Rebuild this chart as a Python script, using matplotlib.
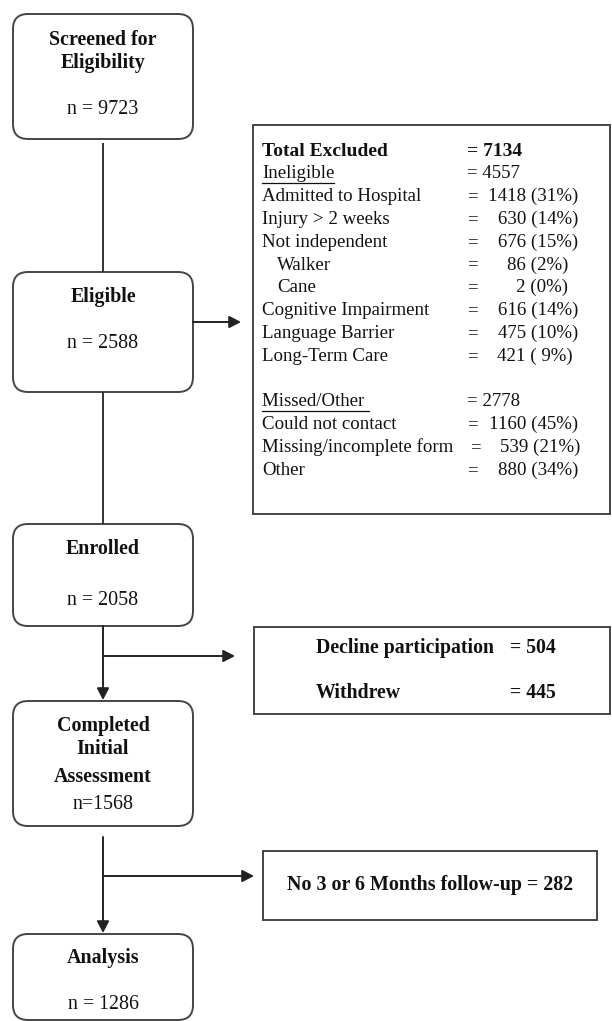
import matplotlib
matplotlib.use("Agg")
import matplotlib.pyplot as plt
from matplotlib.patches import FancyBboxPatch, Rectangle

plt.rcParams['font.family'] = ['Liberation Serif', 'DejaVu Serif']

# ---------------- data ----------------
stage_titles = [["Screened for", "Eligibility"], ["Eligible"], ["Enrolled"],
                ["Completed", "Initial", "Assessment"], ["Analysis"]]
stage_counts = ["n = 9723", "n = 2588", "n = 2058", "n=1568", "n = 1286"]

excl_total_label = "Total Excluded"
excl_total_value = "= 7134"
ineligible_label = "Ineligible"
ineligible_value = "= 4557"
ineligible_reasons = ["Admitted to Hospital", "Injury > 2 weeks", "Not independent",
                      "Walker", "Cane", "Cognitive Impairment", "Language Barrier",
                      "Long-Term Care"]
ineligible_counts = ["1418 (31%)", "630 (14%)", "676 (15%)", "86 (2%)", "2 (0%)",
                     "616 (14%)", "475 (10%)", "421 ( 9%)"]
missed_label = "Missed/Other "
missed_value = "= 2778"
missed_reasons = ["Could not contact", "Missing/incomplete form", "Other"]
missed_counts = ["1160 (45%)", "539 (21%)", "880 (34%)"]

decline_labels = ["Decline participation", "Withdrew"]
decline_values = ["= 504", "= 445"]
followup_text = "No 3 or 6 Months follow-up = 282"

# ---------------- layout ----------------
W, H = 612, 1021
fig = plt.figure(figsize=(W / 100, H / 100), dpi=100)
ax = fig.add_axes([0, 0, 1, 1])
ax.set_xlim(0, W)
ax.set_ylim(H, 0)
ax.axis('off')

LC = '#444444'
TC = '#111111'
LW = 1.4

stage_boxes = [(13, 14, 193, 139), (13, 272, 193, 392), (13, 524, 193, 626),
               (13, 701, 193, 826), (13, 934, 193, 1020)]
title_y = [[40, 63], [297], [549], [726, 749, 777], [958]]
count_y = [109, 343, 600, 804, 1004]
cx = 103

for (x0, y0, x1, y1), titles, ty, cnt, cy in zip(stage_boxes, stage_titles, title_y,
                                                  stage_counts, count_y):
    ax.add_patch(FancyBboxPatch((x0, y0), x1 - x0, y1 - y0,
                                boxstyle="round,pad=0,rounding_size=15",
                                fc='white', ec=LC, lw=LW))
    for t, y in zip(titles, ty):
        ax.text(cx, y, t, ha='center', va='center', fontsize=14.4,
                fontweight='bold', color=TC)
    ax.text(cx, cy, cnt, ha='center', va='center', fontsize=14.4, color=TC)


def line(x0, y0, x1, y1):
    ax.plot([x0, x1], [y0, y1], color='#333333', lw=LW, solid_capstyle='butt')


def arrow(x0, y0, x1, y1):
    ax.annotate("", xy=(x1, y1), xytext=(x0, y0),
                arrowprops=dict(arrowstyle='-|>,head_length=0.5,head_width=0.26',
                                mutation_scale=14, color='#222222', lw=LW,
                                shrinkA=0, shrinkB=0))


# connectors
line(cx, 143, cx, 272)
line(cx, 392, cx, 524)
arrow(193, 322, 241, 322)
arrow(cx, 626, cx, 700)
arrow(cx, 656, 235, 656)
arrow(cx, 837, cx, 933)
arrow(cx, 876, 254, 876)

# ---------------- excluded box ----------------
ax.add_patch(Rectangle((253, 125), 610 - 253, 514 - 125, fc='white', ec=LC, lw=LW))
FS = 13.6
lx, ex = 262, 467
row0, dy = 151, 22.8
ax.text(lx, row0, excl_total_label, ha='left', va='center', fontsize=FS + 0.4,
        fontweight='bold', color=TC)
ax.text(ex, row0, excl_total_value, ha='left', va='center', fontsize=FS + 0.4,
        fontweight='bold', color=TC)

underlined = []
t = ax.text(lx, row0 + dy, ineligible_label, ha='left', va='center', fontsize=FS, color=TC)
underlined.append((t, row0 + dy))
ax.text(ex, row0 + dy, ineligible_value, ha='left', va='center', fontsize=FS, color=TC)

value_end = [578, 578, 578, 568, 568, 578, 578, 573]
indent = [0, 0, 0, 15, 15, 0, 0, 0]
for i, (lab, val) in enumerate(zip(ineligible_reasons, ineligible_counts)):
    y = row0 + dy * (i + 2)
    ax.text(lx + indent[i], y, lab, ha='left', va='center', fontsize=FS, color=TC)
    ax.text(ex, y, "=", ha='left', va='center', fontsize=FS, color=TC)
    ax.text(value_end[i], y, val, ha='right', va='center', fontsize=FS, color=TC)

ym = row0 + dy * 11
t = ax.text(lx, ym, missed_label, ha='left', va='center', fontsize=FS, color=TC)
underlined.append((t, ym))
ax.text(ex, ym, missed_value, ha='left', va='center', fontsize=FS, color=TC)
missed_end = [578, 580, 578]
for i, (lab, val) in enumerate(zip(missed_reasons, missed_counts)):
    y = row0 + dy * (12 + i)
    ax.text(lx, y, lab, ha='left', va='center', fontsize=FS, color=TC)
    ax.text(ex + 3 if i == 1 else ex, y, "=", ha='left', va='center', fontsize=FS, color=TC)
    ax.text(missed_end[i], y, val, ha='right', va='center', fontsize=FS, color=TC)

# underlines
fig.canvas.draw()
r = fig.canvas.get_renderer()
inv = ax.transData.inverted()
for t, y in underlined:
    bb = t.get_window_extent(renderer=r)
    (xa, _), (xb, _) = inv.transform([(bb.x0, bb.y0), (bb.x1, bb.y0)])
    ax.plot([xa, xb], [y + 9, y + 9], color=TC, lw=0.9)

# ---------------- decline box ----------------
ax.add_patch(Rectangle((254, 627), 610 - 254, 714 - 627, fc='white', ec=LC, lw=LW))
for lab, val, y in zip(decline_labels, decline_values, [648, 693]):
    ax.text(316, y, lab, ha='left', va='center', fontsize=14.2, fontweight='bold', color=TC)
    ax.text(510, y, val, ha='left', va='center', fontsize=14.2, fontweight='bold', color=TC)

# ---------------- follow-up box ----------------
ax.add_patch(Rectangle((263, 851), 597 - 263, 920 - 851, fc='white', ec=LC, lw=LW))
ax.text(430, 885, followup_text, ha='center', va='center', fontsize=14.4,
        fontweight='bold', color=TC)

fig.savefig("out.png", dpi=100, facecolor='white')
